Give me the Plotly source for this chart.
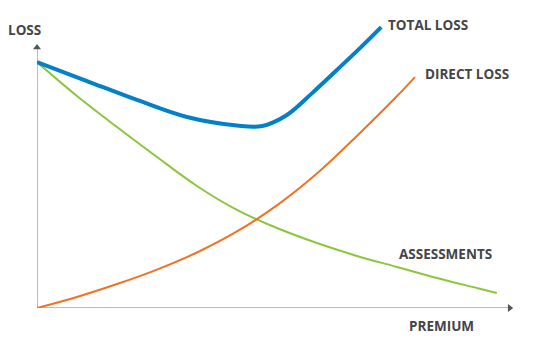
import plotly.graph_objects as go

# Data (abstract units: premium 0-100, loss 0-100)
total_x = [0, 10.5, 21.0, 31.5, 42.0, 47.3, 52.5, 57.8, 63.0, 67.9, 72.3]
total_y = [93.5, 86.3, 79.1, 72.6, 69.4, 69.2, 73.4, 81.7, 90.5, 98.9, 106.8]

direct_x = [0, 8.4, 16.8, 25.2, 33.6, 42.0, 50.4, 58.8, 67.2, 75.6, 79.4]
direct_y = [0, 4.2, 9.1, 14.6, 21.1, 29.1, 39.0, 51.1, 65.4, 80.5, 87.8]

assess_x = [0, 8.4, 16.8, 25.2, 33.6, 42.0, 50.4, 58.8, 67.2, 75.6, 84.0, 92.4, 96.6]
assess_y = [93.5, 80.6, 68.8, 57.4, 46.4, 37.3, 30.4, 24.7, 19.8, 15.6, 11.4, 7.6, 5.7]

labels = ["TOTAL LOSS", "DIRECT LOSS", "ASSESSMENTS"]
axis_labels = ["LOSS", "PREMIUM"]

BLUE = "#0380c7"
ORANGE = "#f07324"
GREEN = "#8cc63f"
TEXT = "#454547"
AXIS = "#a6a6a6"
HEAD = "#555555"
FONT = "Open Sans"
FS = 13.5

fig = go.Figure()

fig.add_trace(go.Scatter(x=assess_x, y=assess_y, mode="lines",
                         line=dict(color=GREEN, width=2, shape="spline", smoothing=1),
                         hoverinfo="skip", showlegend=False))
fig.add_trace(go.Scatter(x=direct_x, y=direct_y, mode="lines",
                         line=dict(color=ORANGE, width=2, shape="spline", smoothing=1),
                         hoverinfo="skip", showlegend=False))
fig.add_trace(go.Scatter(x=total_x, y=total_y, mode="lines",
                         line=dict(color=BLUE, width=4, shape="spline", smoothing=1),
                         hoverinfo="skip", showlegend=False, cliponaxis=False))

# axis lines
fig.add_shape(type="line", x0=0, y0=0, x1=0, y1=98.5, line=dict(color=AXIS, width=1.5), layer="below")
fig.add_shape(type="line", x0=0, y0=0, x1=99, y1=0, line=dict(color=AXIS, width=1.5), layer="below")
# arrow heads
fig.add_trace(go.Scatter(x=[0], y=[99], mode="markers",
                         marker=dict(symbol="triangle-up", size=7, color=HEAD, line=dict(width=0)),
                         hoverinfo="skip", showlegend=False, cliponaxis=False))
fig.add_trace(go.Scatter(x=[99.3], y=[0], mode="markers",
                         marker=dict(symbol="triangle-right", size=7, color=HEAD, line=dict(width=0)),
                         hoverinfo="skip", showlegend=False, cliponaxis=False))

label_pos = [(73.4, 107.6), (81.0, 89.0), (75.7, 20.5)]
for t, (lx, ly) in zip(labels, label_pos):
    fig.add_annotation(x=lx, y=ly, text="<b>%s</b>" % t, showarrow=False,
                       xanchor="left", yanchor="middle",
                       font=dict(family=FONT, size=FS, color=TEXT))

fig.add_annotation(x=-0.065, y=0.965, xref="paper", yref="paper",
                   text="<b>%s</b>" % axis_labels[0], showarrow=False,
                   xanchor="left", yanchor="middle", font=dict(family=FONT, size=FS, color=TEXT))
fig.add_annotation(x=0.777, y=-0.0625, xref="paper", yref="paper",
                   text="<b>%s</b>" % axis_labels[1], showarrow=False,
                   xanchor="left", yanchor="middle", font=dict(family=FONT, size=FS, color=TEXT))

fig.update_layout(
    width=550, height=350,
    margin=dict(l=37, r=37, t=20, b=42),
    paper_bgcolor="white", plot_bgcolor="white",
    xaxis=dict(range=[0, 100], visible=False, fixedrange=True),
    yaxis=dict(range=[0, 109.5], visible=False, fixedrange=True),
)

fig.write_html("out.html")
